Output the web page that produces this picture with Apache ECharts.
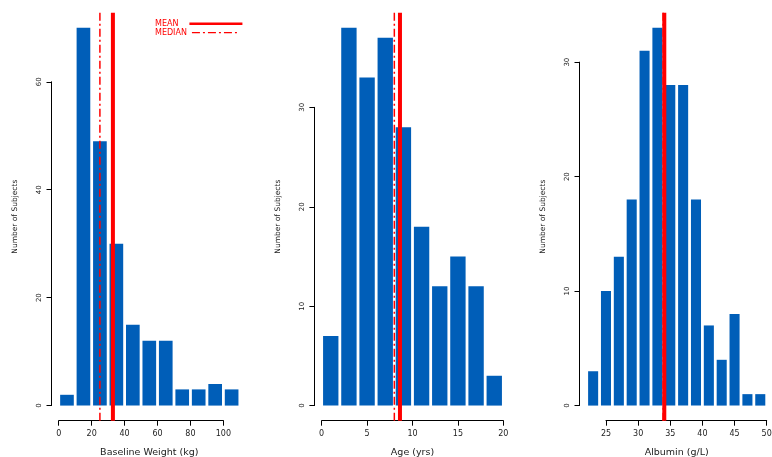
<!DOCTYPE html>
<html><head><meta charset="utf-8">
<script src="https://cdn.jsdelivr.net/npm/echarts@6/dist/echarts.min.js"></script>
<style>html,body{margin:0;padding:0;background:#fff}#c{width:772px;height:457px}</style>
</head><body><div id="c"></div>
<script>
// ---- data ----
const weightBins   = [0,10,20,30,40,50,60,70,80,90,100,110];
const weightCounts = [2,70,49,30,15,12,12,3,3,4,3];
const weightMean = 32.9, weightMedian = 25;
const weightXTicks = {min:0, max:100, step:20};
const weightYTicks = {min:0, max:60, step:20};

const ageBins   = [0,2,4,6,8,10,12,14,16,18,20];
const ageCounts = [7,38,33,37,28,18,12,15,12,3];
const ageMean = 8.62, ageMedian = 8.0;
const ageXTicks = {min:0, max:20, step:5};
const ageYTicks = {min:0, max:30, step:10};

const albBins   = [22,24,26,28,30,32,34,36,38,40,42,44,46,48,50];
const albCounts = [3,10,13,18,31,33,28,28,18,7,4,8,1,1];
const albMean = 34.07, albMedian = 33.9;
const albXTicks = {min:25, max:50, step:5};
const albYTicks = {min:0, max:30, step:10};

const xNames = ['Baseline Weight (kg)','Age (yrs)','Albumin (g/L)'];
const yName = 'Number of Subjects';
const legendNames = ['MEAN','MEDIAN'];

// ---- layout (R plot regions, px) ----
const plotRects = [
  {left:51.5,  top:12.7, width:195.6, height:408},
  {left:314.4, top:12.7, width:196.2, height:408},
  {left:579.5, top:12.7, width:194.4, height:408}
];
const panels = [
  {bins:weightBins, counts:weightCounts, mean:weightMean, median:weightMedian, xt:weightXTicks, yt:weightYTicks},
  {bins:ageBins, counts:ageCounts, mean:ageMean, median:ageMedian, xt:ageXTicks, yt:ageYTicks},
  {bins:albBins, counts:albCounts, mean:albMean, median:albMedian, xt:albXTicks, yt:albYTicks}
];

const FONT = 'DejaVu Sans';
const BAR = '#005EB8';
const RED = '#FF0000';
const grids = [], xAxes = [], yAxes = [], series = [];

panels.forEach((p, i) => {
  const r = plotRects[i];
  const xlo = p.bins[0], xhi = p.bins[p.bins.length-1];
  const cmax = Math.max(...p.counts);
  const ux = [xlo - 0.04*(xhi-xlo), xhi + 0.04*(xhi-xlo)];
  const uy = [-0.04*cmax, 1.04*cmax];
  const pxX = r.width/(ux[1]-ux[0]);
  const pxY = r.height/(uy[1]-uy[0]);
  grids.push({left:r.left, top:r.top, width:r.width, height:r.height, containLabel:false, outerBoundsMode:'none'});
  const aLeft = r.left + (p.xt.min-ux[0])*pxX;
  const aWidth = (p.xt.max-p.xt.min)*pxX;
  const aTop = r.top + (uy[1]-p.yt.max)*pxY;
  const aHeight = (p.yt.max-p.yt.min)*pxY;
  grids.push({left:aLeft, top:aTop, width:aWidth, height:aHeight, containLabel:false, outerBoundsMode:'none'});
  const yOff = aLeft - r.left;
  const xOff = (r.top + r.height) - (aTop + aHeight);

  xAxes.push({gridIndex:2*i, type:'value', min:ux[0], max:ux[1],
    axisLine:{show:false}, axisTick:{show:false}, axisLabel:{show:false}, splitLine:{show:false},
    name:xNames[i], nameLocation:'middle', nameGap:26.5, nameMoveOverlap:false,
    nameTextStyle:{fontFamily:FONT, fontSize:9.5, color:'#222'}});
  yAxes.push({gridIndex:2*i, type:'value', min:uy[0], max:uy[1],
    axisLine:{show:false}, axisTick:{show:false}, axisLabel:{show:false}, splitLine:{show:false},
    name:yName, nameLocation:'middle', nameGap:32, nameMoveOverlap:false,
    nameTextStyle:{fontFamily:FONT, fontSize:7.5, color:'#222'}});

  xAxes.push({gridIndex:2*i+1, type:'value', min:p.xt.min, max:p.xt.max, interval:p.xt.step, offset:xOff,
    axisLine:{show:true, onZero:false, lineStyle:{color:'#000', width:1}},
    axisTick:{show:true, length:5, lineStyle:{color:'#000'}},
    axisLabel:{show:true, margin:9, fontFamily:FONT, fontSize:8, color:'#222', hideOverlap:false, showMinLabel:true, showMaxLabel:true},
    splitLine:{show:false}});
  yAxes.push({gridIndex:2*i+1, type:'value', min:p.yt.min, max:p.yt.max, interval:p.yt.step, offset:yOff,
    axisLine:{show:true, onZero:false, lineStyle:{color:'#000', width:1}},
    axisTick:{show:true, length:5, lineStyle:{color:'#000'}},
    axisLabel:{show:true, rotate:90, margin:9, fontFamily:FONT, fontSize:7, color:'#222', hideOverlap:false, showMinLabel:true, showMaxLabel:true},
    splitLine:{show:false}});

  const data = p.counts.map((c, k) => [p.bins[k], p.bins[k+1], c]);
  series.push({type:'custom', xAxisIndex:2*i, yAxisIndex:2*i, data:data, silent:true,
    encode:{x:[0,1], y:2},
    renderItem:(params, api) => {
      const a = api.coord([api.value(0), api.value(2)]);
      const b = api.coord([api.value(1), 0]);
      return {type:'rect', shape:{x:a[0]+1.4, y:a[1], width:b[0]-a[0]-2.8, height:b[1]-a[1]}, style:{fill:BAR}};
    }, z:2});
  series.push({type:'line', name:legendNames[0], xAxisIndex:2*i, yAxisIndex:2*i, symbol:'none', showSymbol:false, silent:true,
    data:[[p.mean, uy[0]],[p.mean, uy[1]]], lineStyle:{color:RED, width:4}, itemStyle:{color:RED}, z:3, animation:false});
  series.push({type:'line', name:legendNames[1], xAxisIndex:2*i, yAxisIndex:2*i, symbol:'none', showSymbol:false, silent:true,
    data:[[p.median, uy[0]],[p.median, uy[1]]], lineStyle:{color:RED, width:1.5, type:[8,3,2,3]}, itemStyle:{color:RED}, z:4, animation:false});
});

const chart = echarts.init(document.getElementById('c'), null, {renderer:'canvas'});
chart.setOption({
  animation:false,
  backgroundColor:'#fff',
  legend:[
    {orient:'horizontal', left:150, top:14.7, align:'right', itemWidth:53, itemHeight:8, selectedMode:false,
     textStyle:{color:RED, fontFamily:FONT, fontSize:8, padding:[0,6,0,0]},
     data:[{name:legendNames[0], itemStyle:{opacity:0}, lineStyle:{width:2.5}}]},
    {orient:'horizontal', left:150, top:23.7, align:'right', itemWidth:48, itemHeight:8, selectedMode:false,
     textStyle:{color:RED, fontFamily:FONT, fontSize:8, padding:[0,0,0,0]},
     data:[{name:legendNames[1], itemStyle:{opacity:0}, lineStyle:{width:1.2}}]}
  ],
  grid:grids, xAxis:xAxes, yAxis:yAxes, series:series
});
</script></body></html>
